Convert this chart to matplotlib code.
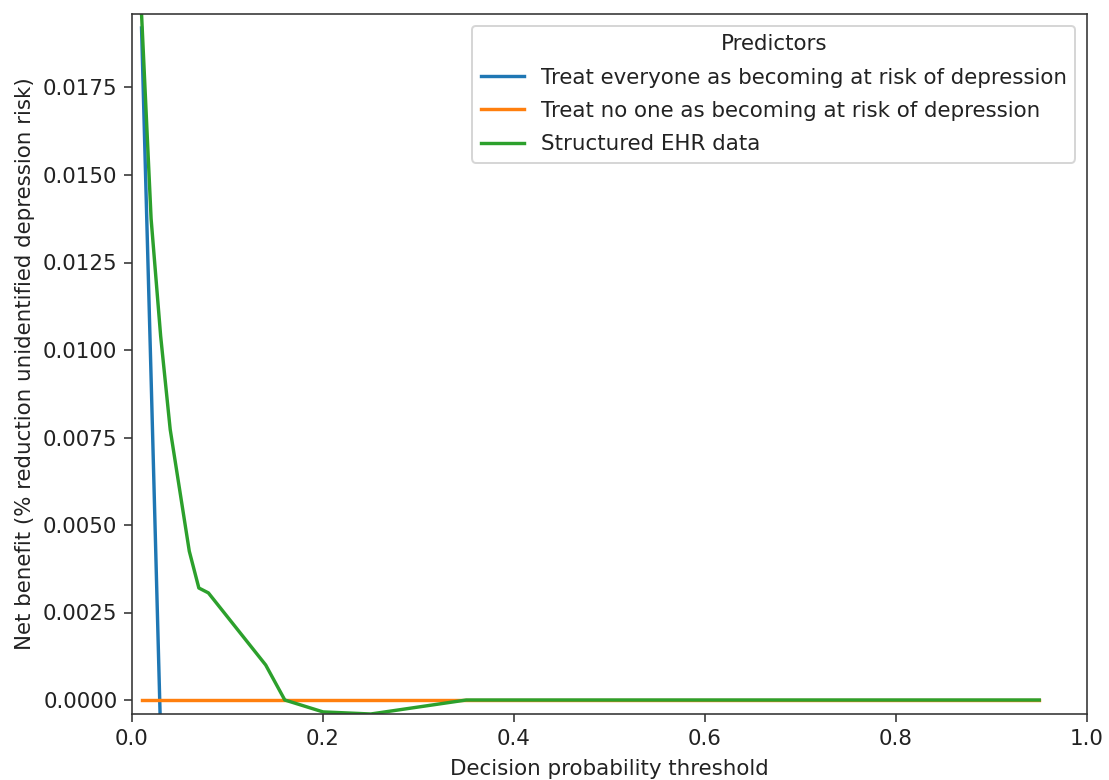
import matplotlib
matplotlib.use("Agg")
import matplotlib.pyplot as plt

# Data
thr_all = [0.01, 0.02, 0.03, 0.04]
nb_all = [0.0192, 0.0092, -0.0010, -0.0113]

thr_none = [0.01, 0.95]
nb_none = [0.0, 0.0]

thr_ehr = [0.01, 0.02, 0.03, 0.04, 0.06, 0.07, 0.08, 0.14, 0.16, 0.20, 0.25, 0.35, 0.95]
nb_ehr = [0.0196, 0.01375, 0.0104, 0.00773, 0.00425, 0.0032, 0.00306, 0.0010, 0.0,
          -0.00034, -0.0004, 0.0, 0.0]

labels = ["Treat everyone as becoming at risk of depression",
          "Treat no one as becoming at risk of depression",
          "Structured EHR data"]

plt.rcParams["font.size"] = 10.7
plt.rcParams["text.color"] = "#222222"
plt.rcParams["axes.labelcolor"] = "#222222"
plt.rcParams["xtick.color"] = "#333333"
plt.rcParams["ytick.color"] = "#333333"
plt.rcParams["xtick.labelcolor"] = "#222222"
plt.rcParams["ytick.labelcolor"] = "#222222"
plt.rcParams["axes.edgecolor"] = "#333333"
plt.rcParams["xtick.major.size"] = 3.8
plt.rcParams["ytick.major.size"] = 3.8

W, H = 1109, 780
dpi = 144
fig = plt.figure(figsize=(W / dpi, H / dpi), dpi=dpi)
ax = fig.add_axes([132 / W, 1 - 714 / H, (1087 - 132) / W, (714 - 14) / H])

lw = 1.7
ax.plot(thr_all, nb_all, color="#1f77b4", lw=lw, label=labels[0])
ax.plot(thr_none, nb_none, color="#ff7f0e", lw=lw, label=labels[1])
ax.plot(thr_ehr, nb_ehr, color="#2ca02c", lw=lw, label=labels[2])

ax.set_xlim(0.0, 1.0)
ax.set_ylim(-0.0004, 0.0196)
ax.set_xticks([0.0, 0.2, 0.4, 0.6, 0.8, 1.0])
ax.set_yticks([0.0, 0.0025, 0.005, 0.0075, 0.01, 0.0125, 0.015, 0.0175])
ax.set_yticklabels(["0.0000", "0.0025", "0.0050", "0.0075", "0.0100",
                    "0.0125", "0.0150", "0.0175"])
ax.set_xlabel("Decision probability threshold", labelpad=5)
ax.set_ylabel("Net benefit (% reduction unidentified depression risk)")
ax.legend(title="Predictors", loc="upper right", title_fontsize=10.7,
          labelspacing=0.62, borderaxespad=0.55)

fig.savefig("out.png", dpi=dpi)
